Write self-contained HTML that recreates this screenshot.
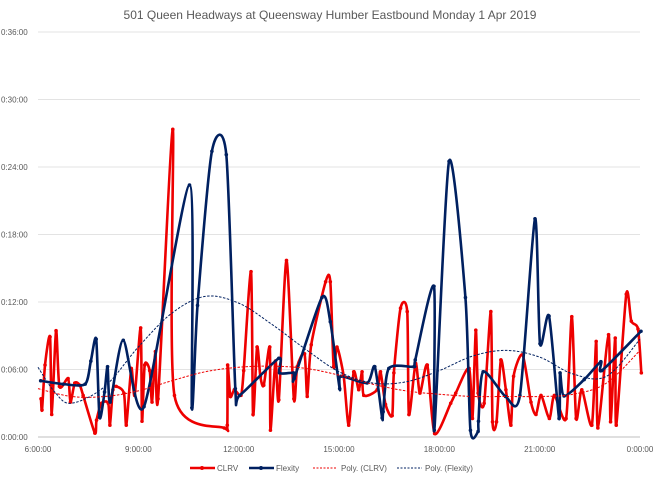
<!DOCTYPE html>
<html><head><meta charset="utf-8"><style>
body{margin:0;background:#fff;font-family:"Liberation Sans",sans-serif}
svg text{font-family:"Liberation Sans",sans-serif}
</style></head><body>
<svg id="c" width="660" height="479" xmlns="http://www.w3.org/2000/svg">
<rect width="660" height="479" fill="#fff"/>
<text x="330" y="19" text-anchor="middle" font-size="12" fill="#595959">501 Queen  Headways at Queensway Humber Eastbound  Monday 1 Apr 2019</text>
<g id="grid"></g><g id="axes"></g><g id="series"></g>
<g font-size="8" fill="#595959">
<g><line x1="190" y1="468" x2="215" y2="468" stroke="#ee0000" stroke-width="2.5"/><circle cx="202" cy="468" r="2" fill="#ee0000"/><text x="217" y="471">CLRV</text></g>
<g><line x1="249" y1="468" x2="274" y2="468" stroke="#002060" stroke-width="2.5"/><circle cx="261" cy="468" r="2" fill="#002060"/><text x="276" y="471">Flexity</text></g>
<g><line x1="313" y1="468" x2="337" y2="468" stroke="#ee0000" stroke-width="1" stroke-dasharray="2,1.5"/><text x="341" y="471">Poly. (CLRV)</text></g>
<g><line x1="397" y1="468" x2="422" y2="468" stroke="#002060" stroke-width="1" stroke-dasharray="2,1.5"/><text x="425" y="471">Poly. (Flexity)</text></g>
</g>
</svg>
<script>
const yTicks=[0,6,12,18,24,30,36];
const yTickLabels=["0:00:00","0:06:00","0:12:00","0:18:00","0:24:00","0:30:00","0:36:00"];
const xTicks=[6,9,12,15,18,21,24];
const xTickLabels=["6:00:00","9:00:00","12:00:00","15:00:00","18:00:00","21:00:00","0:00:00"];
const flexHours=[6.08,6.76,7.41,7.58,7.74,7.84,7.99,8.08,8.16,8.55,9.17,10.53,10.6,10.77,11.2,11.63,11.9,12.03,13.2,13.22,13.64,13.66,14.49,14.74,15.02,15.06,15.84,16.07,16.29,16.32,16.49,17.24,17.28,17.84,17.85,18.29,18.78,18.93,19.16,19.17,19.31,19.98,20.41,20.86,21.01,21.28,21.58,21.61,21.73,22.33,22.83,22.86,24.03];
const flexMinutes=[5.0,4.7,4.7,6.75,8.7,1.75,4.0,6.25,3.1,8.6,2.7,22.4,2.6,11.7,25.4,25.1,4.3,3.7,7.0,5.7,5.7,5.2,12.4,10.25,4.3,5.4,4.8,6.25,1.7,2.25,6.1,6.25,6.85,13.4,0.6,24.5,12.4,0.6,0.5,1.4,5.8,3.6,3.7,19.4,8.3,10.75,1.65,5.7,3.65,5.1,6.7,5.9,9.4];
const clrvHours=[6.09,6.12,6.21,6.36,6.41,6.54,6.64,6.9,6.97,7.1,7.25,7.35,7.7,7.75,7.9,8.1,8.15,8.24,8.34,8.57,8.64,8.79,8.89,9.07,9.11,9.19,9.34,9.41,9.51,9.59,10.03,10.08,11.57,11.66,11.67,11.75,11.87,12.07,12.15,12.37,12.43,12.55,12.65,12.75,12.93,12.95,13.1,13.2,13.43,13.65,13.75,13.97,14.05,14.17,14.6,14.74,14.84,14.94,15.14,15.29,15.44,15.59,15.69,15.74,16.14,16.24,16.39,16.59,16.64,16.84,17.04,17.09,17.29,17.42,17.64,17.86,18.34,18.49,18.89,18.99,19.09,19.16,19.34,19.54,19.59,19.71,19.84,19.99,20.14,20.22,20.49,20.74,20.89,21.04,21.29,21.44,21.79,21.96,22.09,22.26,22.56,22.69,22.74,23.06,23.12,23.26,23.29,23.59,23.74,23.94,24.04];
const clrvMinutes=[3.4,2.4,6.4,8.9,2.0,9.45,4.5,5.2,3.1,4.8,4.6,3.7,0.35,1.5,3.0,3.0,1.05,4.2,4.5,3.9,1.05,6.1,3.7,9.7,1.4,6.4,5.9,3.1,7.6,3.4,27.35,3.7,0.8,1.05,6.4,3.6,4.2,3.7,5.9,14.7,2.0,8.0,5.35,4.6,8.0,0.6,6.75,3.3,15.7,3.4,6.25,7.4,3.6,8.2,13.8,13.8,6.25,8.0,5.4,1.05,5.8,4.2,5.8,3.7,4.2,5.8,2.9,1.9,5.7,11.45,11.15,2.0,6.55,3.9,6.4,0.3,3.0,3.9,6.1,1.65,9.5,3.9,3.0,11.15,1.35,1.35,6.85,4.2,1.05,5.4,7.3,3.1,2.0,3.7,1.65,3.7,1.65,10.7,1.65,4.2,1.05,8.5,0.8,9.1,1.35,8.8,1.05,12.7,10.3,9.6,5.7];
const trendHours=[6,7,8,9,10,11,12,13,14,15,16,17,18,19,20,21,22,23,24];
const trendClrv=[4.3,3.6,3.6,4.1,5.0,5.8,6.2,6.3,6.1,5.5,4.7,4.1,3.8,3.6,3.6,3.6,3.8,4.8,7.7];
const trendFlexHours=[6,6.5,7,8,9,10,11,12,13,14,15,16,17,18,19,20,21,22,23,24];
const trendFlex=[6.2,4.0,3.0,4.5,8.0,11.0,12.5,11.9,10.0,7.8,5.8,4.8,4.9,5.9,7.2,7.7,7.1,5.6,5.4,8.7];

const NS="http://www.w3.org/2000/svg";
const X0=38,X1=640,Y0=437,Y1=32;
const xs=h=>X0+(h-6)/18*(X1-X0);
const ys=m=>Y0-m/36*(Y0-Y1);
function mk(tag,attrs,parent){const e=document.createElementNS(NS,tag);for(const k in attrs)e.setAttribute(k,attrs[k]);parent.appendChild(e);return e;}
const grid=document.getElementById('grid'),axes=document.getElementById('axes'),ser=document.getElementById('series');
yTicks.forEach((t,i)=>{
  const l=mk('line',{x1:X0,x2:X1,y1:ys(t),y2:ys(t),stroke:i==0?'#bfbfbf':'#e3e3e3','stroke-width':1},grid);
  
  
  const tx=mk('text',{x:1,y:ys(t)+3,'font-size':8,fill:'#595959'},axes);
  tx.textContent=yTickLabels[i];
  
  
});
xTicks.forEach((t,i)=>{
  const tx=mk('text',{x:xs(t),y:452,'font-size':8,fill:'#595959','text-anchor':'middle'},axes);
  tx.textContent=xTickLabels[i];
  
  
});
function smooth(pts,t){
  let d='M'+pts[0][0]+','+pts[0][1];
  for(let i=0;i<pts.length-1;i++){
    const p0=pts[Math.max(0,i-1)],p1=pts[i],p2=pts[i+1],p3=pts[Math.min(pts.length-1,i+2)];
    d+=' C'+(p1[0]+(p2[0]-p0[0])*t)+','+(p1[1]+(p2[1]-p0[1])*t)+' '+(p2[0]-(p3[0]-p1[0])*t)+','+(p2[1]-(p3[1]-p1[1])*t)+' '+p2[0]+','+p2[1];
  }
  return d;
}
function trend(hs,vs,color,name){
  const p=mk('path',{d:smooth(hs.map((h,i)=>[xs(h),ys(vs[i])]),1/6),fill:'none',stroke:color,'stroke-width':1,'stroke-dasharray':'2.5,1.5'},ser);
  
  
}
function series(hs,vs,color,name){
  const g=mk('g',{},ser);
  
  
  const pts=hs.map((h,i)=>[xs(h),ys(vs[i])]);
  mk('path',{d:smooth(pts,1/8),fill:'none',stroke:color,'stroke-width':2.6,'stroke-linejoin':'round'},g);
  pts.forEach(p=>{
    const c=mk('circle',{cx:p[0],cy:p[1],r:1.8,fill:color},g);
    
    
  });
}
series(clrvHours,clrvMinutes,'#ee0000','clrv-series');
series(flexHours,flexMinutes,'#002060','flexity-series');
trend(trendHours,trendClrv,'#ee0000','poly-clrv-trendline');
trend(trendFlexHours,trendFlex,'#002060','poly-flexity-trendline');
</script>
</body></html>
